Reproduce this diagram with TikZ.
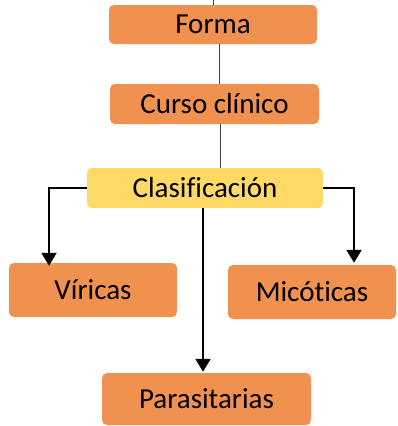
\documentclass[tikz,border=0pt]{standalone}
\usepackage{fontspec}
\setmainfont[Ligatures={NoCommon}]{Carlito}
\usetikzlibrary{arrows.meta}
\definecolor{boxorange}{HTML}{F0914F}
\definecolor{boxyellow}{HTML}{FFD966}
\definecolor{thinline}{HTML}{404040}
\begin{document}
\begin{tikzpicture}[x=1pt,y=-1pt,
  box/.style={rounded corners=5pt, fill=boxorange, draw=none, inner sep=0pt,
    font=\fontsize{29}{33}\selectfont, text=black},
  ybox/.style={box, fill=boxyellow},
  thin link/.style={draw=thinline, line width=1pt},
  arrow link/.style={draw=black, line width=2pt, -{Triangle[length=13pt,width=15pt]}}]
\useasboundingbox (0,0) rectangle (397,426);
\node[box, minimum width=208pt, minimum height=39pt] (forma) at (213,24.5) {Forma};
\node[box, minimum width=209pt, minimum height=40pt] (curso) at (214.5,104) {Curso clínico};
\node[ybox, minimum width=236pt, minimum height=40pt] (clasif) at (205,188) {Clasificación};
\node[box, minimum width=168pt, minimum height=54pt] (viricas) at (93,290) {Víricas};
\node[box, minimum width=168pt, minimum height=54pt] (micoticas) at (312,292) {Micóticas};
\node[box, minimum width=209pt, minimum height=52pt] (parasit) at (206.5,399) {Parasitarias};
\coordinate (top) at (213,0);
\draw[thin link] (top) -- (forma.north);
\draw[thin link] ([xshift=6pt]forma.south) -- ([xshift=4.5pt]curso.north);
\draw[thin link] ([xshift=5.5pt]curso.south) -- ([xshift=15pt]clasif.north);
\draw[arrow link] (clasif.west) -| ([shift={(-44,3)}]viricas.north);
\draw[arrow link] (clasif.east) -| ([shift={(42,-2)}]micoticas.north);
\draw[arrow link] ([xshift=-2pt]clasif.south) -- ([shift={(-3.5,-1)}]parasit.north);
\end{tikzpicture}
\end{document}
